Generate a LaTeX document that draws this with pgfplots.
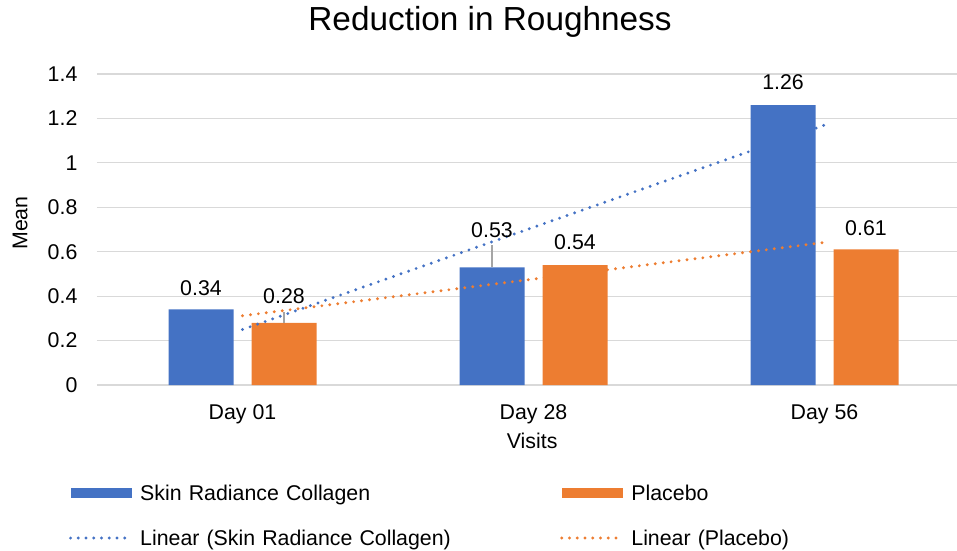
\documentclass[border=0pt]{standalone}
\usepackage{pgfplots}
\pgfplotsset{compat=1.18}
\usepackage{fontspec}
\setmainfont{Liberation Sans}
\definecolor{srcblue}{HTML}{4472C4}
\definecolor{plorange}{HTML}{ED7D31}
\definecolor{gridgray}{HTML}{D9D9D9}
\definecolor{errgray}{HTML}{A5A5A5}
\begin{document}
\begin{tikzpicture}
\useasboundingbox (-72.75pt,-123.75pt) rectangle (645pt,288.75pt);
\begin{axis}[
  at={(0pt,0pt)}, anchor=south west,
  scale only axis, width=645pt, height=233.25pt,
  xmin=-0.5, xmax=2.4553, ymin=0, ymax=1.4,
  xtick={0,1,2}, xticklabels={Day 01, Day 28, Day 56},
  ytick={0,0.2,0.4,0.6,0.8,1,1.2,1.4},
  yticklabels={0,0.2,0.4,0.6,0.8,1,1.2,1.4},
  major tick length=0pt,
  axis line style={draw=none},
  ymajorgrids, grid style={gridgray, line width=0.9pt},
  tick label style={font=\fontsize{16}{19.2}\selectfont},
  yticklabel style={anchor=east, inner sep=0pt, xshift=-14.5pt},
  xticklabel style={anchor=base, yshift=-25.9pt},
  xlabel={Visits}, ylabel={Mean},
  label style={font=\fontsize{16}{19.2}\selectfont},
  xlabel style={at={(axis description cs:0.506,0)}, anchor=base, yshift=-47.6pt},
  ylabel style={at={(axis description cs:-0.0895,0.521)}, anchor=center},
  title={Reduction in Roughness},
  title style={at={(axis description cs:0.457,1)}, anchor=base, yshift=27pt, font=\fontsize{25}{30}\selectfont},
  legend columns=2,
  legend style={at={(axis description cs:0,0)}, anchor=north west,
    xshift=-21pt, yshift=-75.1pt, draw=none, fill=none,
    inner sep=0pt, outer sep=0pt, row sep=21.95pt,
    font=\fontsize{16}{19.2}\selectfont,
    cells={anchor=west},
    nodes={inner sep=0pt, text height=11.6pt, text depth=0.2pt, text width=315pt, align=left},
    /tikz/every odd column/.append style={column sep=5.25pt},
    /tikz/every even column/.append style={column sep=0pt}},
]
\addplot[ybar, bar width=48.75pt, bar shift=-31.125pt, fill=srcblue, draw=none,
  legend image code/.code={\fill[srcblue] (0pt,-3.75pt) rectangle (45.75pt,3.75pt);}]
  coordinates {(0,0.34) (1,0.53) (2,1.26)};
\addlegendentry{Skin Radiance Collagen}
\addplot[ybar, bar width=48.75pt, bar shift=31.125pt, fill=plorange, draw=none,
  legend image code/.code={\fill[plorange] (0pt,-3.75pt) rectangle (45.75pt,3.75pt);}]
  coordinates {(0,0.28) (1,0.54) (2,0.61)};
\addlegendentry{Placebo}
\addplot[draw=none, mark=none, forget plot,
  error bars/.cd, y dir=plus, y explicit,
  error bar style={errgray, line width=0.9pt}, error mark=none]
  coordinates {(0.1426,0.28) +- (0,0.05) (0.8574,0.53) +- (0,0.10)};
\addplot[srcblue, line width=2.4pt, line cap=round, dash pattern=on 0pt off 6pt, mark=none,
  legend image code/.code={\draw[srcblue, line width=2.4pt, line cap=round, dash pattern=on 0pt off 5.8pt] (0pt,0pt) -- (45.75pt,0pt);}]
  coordinates {(0,0.25) (2,1.17)};
\addlegendentry{Linear (Skin Radiance Collagen)}
\addplot[plorange, line width=2.4pt, line cap=round, dash pattern=on 0pt off 6pt, mark=none,
  legend image code/.code={\draw[plorange, line width=2.4pt, line cap=round, dash pattern=on 0pt off 5.8pt] (0pt,0pt) -- (45.75pt,0pt);}]
  coordinates {(0,0.3117) (2,0.6417)};
\addlegendentry{Linear (Placebo)}
\addplot[draw=none, mark=none, forget plot, nodes near coords, point meta=explicit symbolic,
  nodes near coords style={anchor=base, inner sep=0pt, font=\fontsize{16}{19.2}\selectfont, text=black}]
  coordinates {(-0.1426,0.405)[0.34] (0.1426,0.369)[0.28] (0.8574,0.666)[0.53]
               (1.1426,0.608)[0.54] (1.8574,1.328)[1.26] (2.1426,0.675)[0.61]};
\end{axis}
\end{tikzpicture}
\end{document}
